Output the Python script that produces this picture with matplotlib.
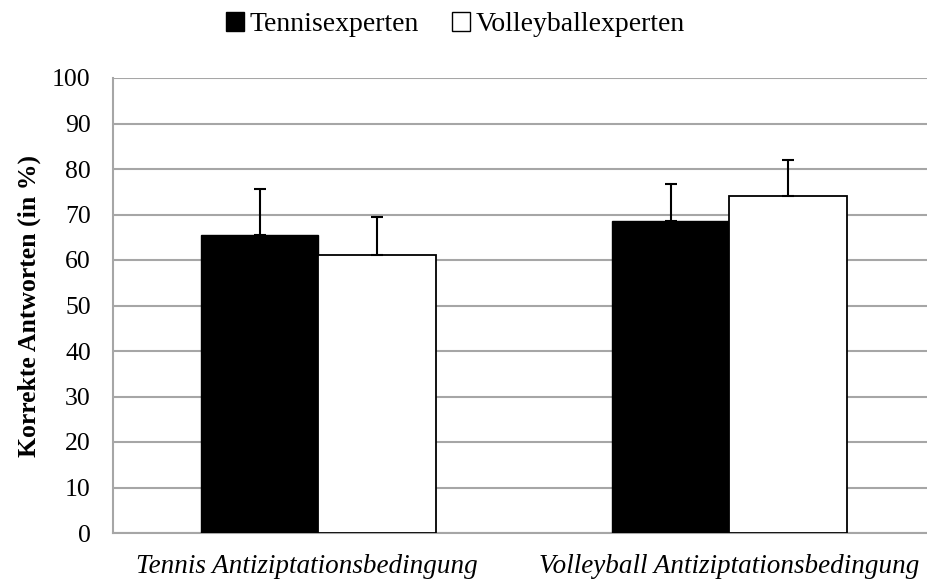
import matplotlib.pyplot as plt
import numpy as np
from matplotlib.patches import Patch
from matplotlib.transforms import ScaledTranslation

categories = ["Tennis Antiziptationsbedingung", "Volleyball Antiziptationsbedingung"]
groups = ["Tennisexperten", "Volleyballexperten"]
tennis_means = [65.5, 68.6]
tennis_err = [10.1, 8.0]
volley_means = [61.1, 74.1]
volley_err = [8.4, 7.8]

plt.rcParams["font.family"] = ["Liberation Serif", "DejaVu Serif"]

fig = plt.figure(figsize=(9.28, 5.81), dpi=100)
ax = fig.add_axes([113 / 928, 1 - 533 / 581, 815 / 928, (533 - 78) / 581])

x = np.arange(len(categories))
w = 0.285
grid_c = "#a6a6a6"

ax.bar(x - w / 2, tennis_means, w, color="black", edgecolor="black", linewidth=1.0, zorder=3,
       yerr=[[0, 0], tennis_err], error_kw=dict(ecolor="black", elinewidth=1.5, capsize=4.5, capthick=1.5, zorder=4))
ax.bar(x + w / 2, volley_means, w, color="white", edgecolor="black", linewidth=1.3, zorder=3,
       yerr=[[0, 0], volley_err], error_kw=dict(ecolor="black", elinewidth=1.5, capsize=4.5, capthick=1.5, zorder=4))

ax.set_xlim(-0.5, -0.5 + 815 / 411)
ax.set_ylim(0, 100)
ax.set_yticks(range(0, 101, 10))
ax.yaxis.grid(True, color=grid_c, linewidth=1.5, zorder=0)
ax.set_axisbelow(True)
ax.set_xticks(x)
ax.set_xticklabels(categories, fontsize=19.5, fontstyle="italic")
ax.tick_params(axis="y", length=0, pad=16, labelsize=18.5)
ax.tick_params(axis="x", length=0, pad=15)
# the first category label sits a little left of its group in the original
lab = ax.get_xticklabels()[0]
lab.set_transform(lab.get_transform() + ScaledTranslation(-0.12, 0, fig.dpi_scale_trans))
for s in ["top", "right"]:
    ax.spines[s].set_visible(False)
for s in ["left", "bottom"]:
    ax.spines[s].set_color(grid_c)
    ax.spines[s].set_linewidth(1.5)
ax.set_ylabel("Korrekte Antworten (in %)", fontsize=18.5, fontweight="bold", labelpad=8)

handles = [Patch(facecolor="black", edgecolor="black"),
           Patch(facecolor="white", edgecolor="black", linewidth=1.0)]
fig.legend(handles, groups, loc="upper center", bbox_to_anchor=(0.491, 1.022), ncol=2, frameon=False,
           fontsize=20, handlelength=0.65, handleheight=0.65, handletextpad=0.2, columnspacing=1.2)

fig.savefig("out.png", dpi=100)
